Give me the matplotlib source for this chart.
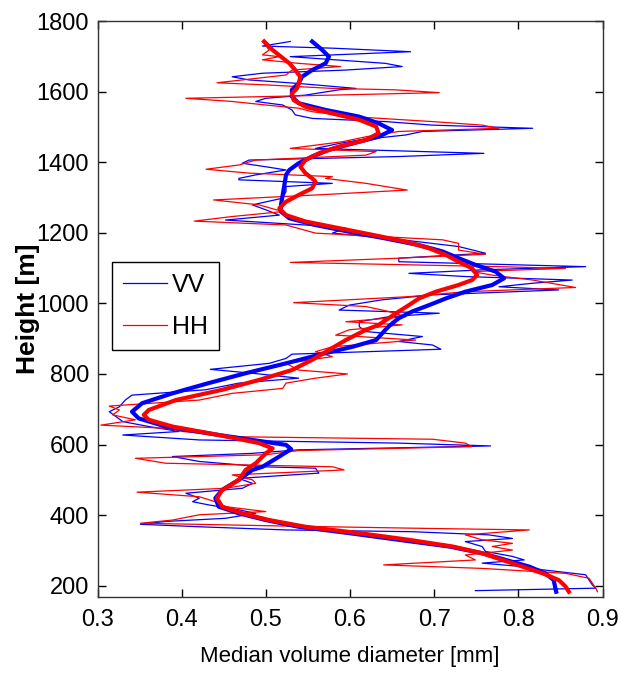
import matplotlib
matplotlib.use("Agg")
import matplotlib.pyplot as plt
from matplotlib import font_manager

_names = {f.name for f in font_manager.fontManager.ttflist}
if 'Liberation Sans Narrow' in _names:
    plt.rcParams['font.family'] = ['Liberation Sans Narrow', 'DejaVu Sans']
    TICK_FS, XL_FS, LEG_FS = 20, 20, 20
else:
    plt.rcParams['font.family'] = ['Liberation Sans', 'DejaVu Sans']
    TICK_FS, XL_FS, LEG_FS = 17, 16, 18

# ---- VV noisy profile (height [m], diameter [mm]) ----
vv_h = [1742, 1729, 1723, 1713, 1699, 1680, 1671, 1661, 1652, 1642, 1633, 1623, 1609, 1605,
        1590, 1581, 1572, 1562, 1548, 1534, 1524, 1515, 1505, 1496, 1487, 1477, 1463, 1453,
        1439, 1425, 1416, 1406, 1397, 1387, 1378, 1364, 1354,
        1350, 1340, 1331, 1317, 1298, 1279, 1265, 1250, 1236, 1222, 1213, 1199, 1180, 1161,
        1142, 1128, 1118, 1104, 1095, 1085, 1076, 1066, 1057, 1047, 1038, 1024, 1010, 995,
        981, 972, 962, 948,
        934, 920, 906, 892, 882, 870, 863, 856, 844, 830, 813, 802, 788, 774, 755, 740, 726,
        707, 693, 679, 665, 651, 637, 627, 613, 604, 596, 585, 575, 566, 552, 537,
        533, 519, 504, 490, 476, 462, 448, 438, 429, 415, 405, 391, 382, 374, 367, 358, 353,
        344, 334, 325, 311, 297, 283, 273, 264, 254, 245, 231, 216, 202, 193, 186]
vv_d = [0.529, 0.496, 0.579, 0.672, 0.529, 0.642, 0.662, 0.595, 0.496, 0.460, 0.480, 0.539, 0.607, 0.587,
        0.547, 0.500, 0.488, 0.520, 0.531, 0.535, 0.555, 0.642, 0.698, 0.817, 0.686, 0.666, 0.611, 0.587,
        0.559, 0.759, 0.658, 0.480, 0.472, 0.500, 0.524, 0.488, 0.468,
        0.468, 0.579, 0.524, 0.524, 0.520, 0.484, 0.500, 0.516, 0.452, 0.547, 0.595, 0.579, 0.662, 0.729,
        0.761, 0.658, 0.658, 0.880, 0.757, 0.670, 0.737, 0.864, 0.817, 0.777, 0.848, 0.698, 0.638, 0.599,
        0.587, 0.706, 0.646, 0.611,
        0.611, 0.619, 0.686, 0.658, 0.698, 0.708, 0.619, 0.531, 0.524, 0.504, 0.434, 0.484, 0.539, 0.468, 0.428, 0.341, 0.333,
        0.326, 0.314, 0.322, 0.330, 0.361, 0.397, 0.330, 0.421, 0.658, 0.767, 0.539, 0.484, 0.389, 0.421, 0.496,
        0.559, 0.563, 0.468, 0.484, 0.472, 0.405, 0.421, 0.413, 0.432, 0.468, 0.488, 0.452, 0.381, 0.351, 0.421, 0.524, 0.674,
        0.765, 0.793, 0.737, 0.757, 0.761, 0.793, 0.807, 0.757, 0.805, 0.829, 0.880, 0.884, 0.888, 0.892, 0.749]

# ---- HH noisy profile ----
hh_h = [1742, 1718, 1704, 1699, 1690, 1680, 1671, 1661, 1647, 1633, 1625, 1619, 1609, 1605,
        1597, 1590, 1581, 1572, 1562, 1553, 1543, 1529, 1515, 1505, 1496, 1487, 1472, 1458,
        1439, 1430, 1420, 1406, 1392, 1380, 1369, 1359,
        1354, 1340, 1321, 1307, 1293, 1279, 1260, 1246, 1233, 1222, 1199, 1180, 1170, 1151,
        1139, 1128, 1116, 1104, 1099, 1090, 1080, 1066, 1045, 1033, 1019, 1002, 991, 977,
        962, 948,
        939, 925, 910, 896, 877, 863, 849, 830, 811, 800, 788, 774, 759, 745, 726, 709,
        698, 684, 670, 655, 646, 637, 622, 615, 604, 594, 583, 571, 561, 547, 537,
        528, 514, 500, 490, 476, 465, 452, 438, 424, 410, 401, 386, 377, 369, 363, 358,
        344, 330, 320, 311, 301, 287, 273, 259, 249, 235, 221, 207, 193, 183]
hh_d = [0.496, 0.504, 0.496, 0.516, 0.496, 0.539, 0.589, 0.531, 0.524, 0.472, 0.442, 0.500, 0.579, 0.654,
        0.706, 0.579, 0.405, 0.460, 0.500, 0.539, 0.555, 0.603, 0.698, 0.757, 0.777, 0.658, 0.619, 0.591,
        0.529, 0.631, 0.619, 0.488, 0.468, 0.429, 0.480, 0.579,
        0.571, 0.619, 0.668, 0.559, 0.438, 0.492, 0.520, 0.460, 0.415, 0.524, 0.559, 0.710, 0.729, 0.729,
        0.761, 0.658, 0.529, 0.777, 0.856, 0.745, 0.769, 0.817, 0.868, 0.737, 0.670, 0.533, 0.619, 0.646,
        0.666, 0.595,
        0.662, 0.599, 0.583, 0.678, 0.579, 0.559, 0.579, 0.524, 0.539, 0.597, 0.559, 0.524, 0.520, 0.460, 0.421, 0.314,
        0.326, 0.318, 0.345, 0.304, 0.381, 0.401, 0.468, 0.698, 0.737, 0.745, 0.539, 0.500, 0.345, 0.381, 0.579,
        0.593, 0.460, 0.484, 0.488, 0.452, 0.347, 0.421, 0.440, 0.452, 0.500, 0.421, 0.389, 0.351, 0.524, 0.674, 0.813,
        0.737, 0.757, 0.793, 0.769, 0.793, 0.737, 0.749, 0.640, 0.757, 0.856, 0.884, 0.888, 0.892, 0.894]

# ---- VV smoothed profile ----
vv_s_h = [1742, 1718, 1699, 1680, 1661, 1642, 1623, 1605, 1586, 1567, 1548, 1529, 1510, 1491,
          1472, 1453, 1435, 1416, 1397, 1378, 1364, 1335, 1307, 1279, 1260, 1241, 1222, 1203,
          1184, 1165, 1147, 1128, 1109, 1090, 1071, 1052, 1033, 1014, 995, 977, 958, 939,
          925, 896, 877, 859, 830, 802, 774, 745, 717, 693, 674, 651, 627, 599, 587, 566, 537,
          528, 500, 471, 448, 424, 405, 386, 367, 349, 330, 311, 292, 273, 254, 235, 216, 193, 183]
vv_s_d = [0.555, 0.567, 0.575, 0.571, 0.555, 0.543, 0.539, 0.531, 0.531, 0.539, 0.571, 0.611, 0.634, 0.650,
          0.634, 0.603, 0.575, 0.555, 0.539, 0.528, 0.524, 0.522, 0.520, 0.518, 0.518, 0.528, 0.559, 0.599,
          0.642, 0.682, 0.710, 0.729, 0.749, 0.773, 0.783, 0.769, 0.737, 0.714, 0.694, 0.674, 0.658, 0.648,
          0.642, 0.631, 0.603, 0.571, 0.524, 0.476, 0.432, 0.389, 0.353, 0.341, 0.349, 0.381, 0.444, 0.524, 0.530, 0.516, 0.496,
          0.484, 0.468, 0.448, 0.440, 0.444, 0.468, 0.500, 0.539, 0.599, 0.658, 0.718, 0.757, 0.785, 0.813, 0.832, 0.842, 0.844, 0.845]

# ---- HH smoothed profile ----
hh_s_h = [1742, 1718, 1699, 1680, 1661, 1642, 1623, 1609, 1595, 1576, 1557, 1538, 1520, 1501,
          1482, 1463, 1444, 1425, 1406, 1387, 1369, 1354, 1345, 1326, 1307, 1288, 1269, 1250,
          1232, 1213, 1194, 1175, 1156, 1137, 1118, 1099, 1080, 1066, 1052, 1033, 1014, 995,
          977, 958, 939, 925, 896, 868, 840, 811, 783, 755, 726, 698, 684, 670, 651, 627, 604,
          589, 575, 547, 528, 500, 471, 448, 424, 405, 386, 367, 349, 330, 311, 292, 273, 254,
          235, 216, 198, 183]
hh_s_d = [0.498, 0.508, 0.518, 0.528, 0.535, 0.541, 0.539, 0.537, 0.531, 0.533, 0.547, 0.579, 0.611, 0.631,
          0.634, 0.619, 0.587, 0.563, 0.547, 0.541, 0.547, 0.555, 0.559, 0.555, 0.539, 0.524, 0.516, 0.524,
          0.547, 0.587, 0.627, 0.666, 0.694, 0.714, 0.729, 0.745, 0.751, 0.745, 0.729, 0.702, 0.682, 0.670,
          0.658, 0.646, 0.634, 0.619, 0.595, 0.575, 0.555, 0.531, 0.492, 0.448, 0.393, 0.361, 0.355, 0.361, 0.389, 0.444, 0.492,
          0.508, 0.500, 0.488, 0.476, 0.468, 0.448, 0.442, 0.448, 0.472, 0.504, 0.547, 0.611, 0.670, 0.722, 0.757, 0.781, 0.805,
          0.829, 0.848, 0.856, 0.860]

x_ticks = [0.3, 0.4, 0.5, 0.6, 0.7, 0.8, 0.9]
y_ticks = [200, 400, 600, 800, 1000, 1200, 1400, 1600, 1800]

BLUE = (0, 0, 1)
RED = (1, 0, 0)

fig = plt.figure(figsize=(6.21, 6.79), dpi=100)
ax = fig.add_axes([97.5 / 621, 1 - 597 / 679, 505 / 621, 576 / 679])

ax.plot(vv_d, vv_h, color=BLUE, lw=0.9, label='VV')
ax.plot(hh_d, hh_h, color=RED, lw=0.9, label='HH')
ax.plot(vv_s_d, vv_s_h, color=BLUE, lw=3.0)
ax.plot(hh_s_d, hh_s_h, color=RED, lw=3.0)

ax.set_xlim(0.3, 0.9)
ax.set_ylim(168, 1800)
ax.set_xticks(x_ticks)
ax.set_xticklabels([f"{v:g}" for v in x_ticks])
ax.set_yticks(y_ticks)
ax.set_yticklabels([str(v) for v in y_ticks])
ax.tick_params(direction='in', length=6, width=1, top=True, right=True,
               labelsize=TICK_FS, colors='black')
ax.tick_params(axis='y', pad=6)
ax.tick_params(axis='x', pad=9)
for s in ax.spines.values():
    s.set_linewidth(1.0)
    s.set_color('#333333')

ax.set_xlabel('Median volume diameter [mm]', fontsize=XL_FS)
ax.xaxis.set_label_coords(0.5, -0.085)
ax.set_ylabel('Height [m]', fontsize=19, fontweight='bold')
ax.yaxis.set_label_coords(-0.114, 0.5)

leg = ax.legend(loc='upper left', bbox_to_anchor=(0.0287, 0.5816), borderaxespad=0,
                fontsize=LEG_FS, frameon=True, fancybox=False, framealpha=1,
                edgecolor='black', handlelength=1.75, handletextpad=0.2,
                labelspacing=0.7, borderpad=0.45)
leg.get_frame().set_linewidth(1.0)

fig.savefig('out.png', dpi=100)
